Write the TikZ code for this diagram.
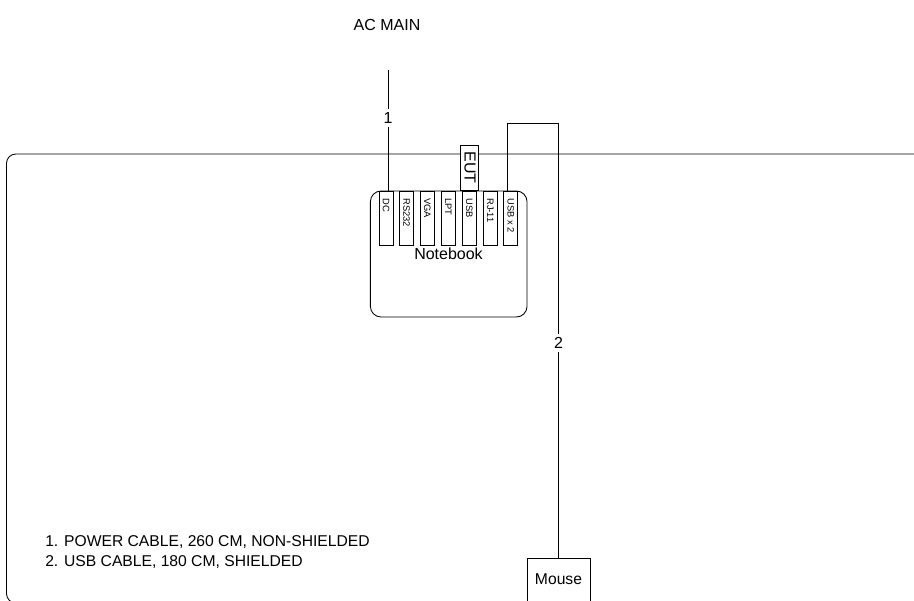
\documentclass[tikz,border=0pt]{standalone}
\usepackage{fontspec}
\setmainfont{Liberation Sans}
\tikzset{
  wire/.style={draw=black, line width=0.65pt},
  portbox/.style={wire, rectangle, fill=white, minimum width=10.6pt, minimum height=40.5pt, inner sep=0pt, anchor=north},
  portname/.style={rotate=-90, anchor=west, inner sep=0pt, font=\fontsize{7pt}{8pt}\selectfont},
  cablenum/.style={fill=white, inner sep=2.5pt, font=\fontsize{12pt}{14pt}\selectfont},
  plain/.style={inner sep=0pt, font=\fontsize{12pt}{14pt}\selectfont},
  smallplain/.style={inner sep=0pt, font=\fontsize{11.75pt}{14pt}\selectfont}
}
\begin{document}
\begin{tikzpicture}[x=0.75pt, y=-0.75pt]
\clip (0,0) rectangle (914,600);

% table
\draw[wire, rounded corners=7pt] (930,154) -- (6.5,154) -- (6.5,603) -- (930,603);

% notebook
\node[wire, rectangle, rounded corners=8pt, minimum width=117.5pt, minimum height=94.5pt, inner sep=0pt] (notebook) at (448.7,254) {};
\node[plain] (notebooklabel) at (448.5,254) {Notebook};

% ports
\foreach \n/\x/\t in {dc/386/DC, rsport/406.5/RS232, vga/427.3/VGA, lpt/448.3/LPT, usb/469.3/USB, rj/490.2/RJ-11, usbtwo/510.8/USB x 2} {
  \node[portbox] (\n) at (\x,191) {};
  \node[portname] (\n label) at (\x,198) {\t};
}

% EUT
\node[wire, rectangle, fill=white, minimum width=13.5pt, minimum height=33.8pt, inner sep=0pt] (eut) at (469,167.5) {};
\node[plain, rotate=-90] (eutlabel) at (470,167.5) {EUT};

% power cable
\node[plain] (acmain) at (387,25) {AC MAIN};
\coordinate (acend) at (388,70);
\draw[wire] (acend) -- node[cablenum, pos=0.397] (cableone) {1} (acend |- dc.north);

% usb cable
\node[wire, rectangle, fill=white, minimum width=47.2pt, minimum height=36pt, inner sep=0pt, anchor=north] (mouse) at (558.5,558) {};
\node[smallplain] (mouselabel) at (558.5,579.5) {Mouse};
\coordinate (usbbend) at (558.5,123.7);
\draw[wire] (507,191) coordinate (usbend) |- (usbbend) -- node[cablenum, pos=0.505] (cabletwo) {2} (mouse.north);

% legend
\node[smallplain, anchor=west] (legendone) at (45,542) {1. POWER CABLE, 260 CM, NON-SHIELDED};
\node[smallplain, anchor=west] (legendtwo) at (45,562.5) {2. USB CABLE, 180 CM, SHIELDED};
\end{tikzpicture}
\end{document}
